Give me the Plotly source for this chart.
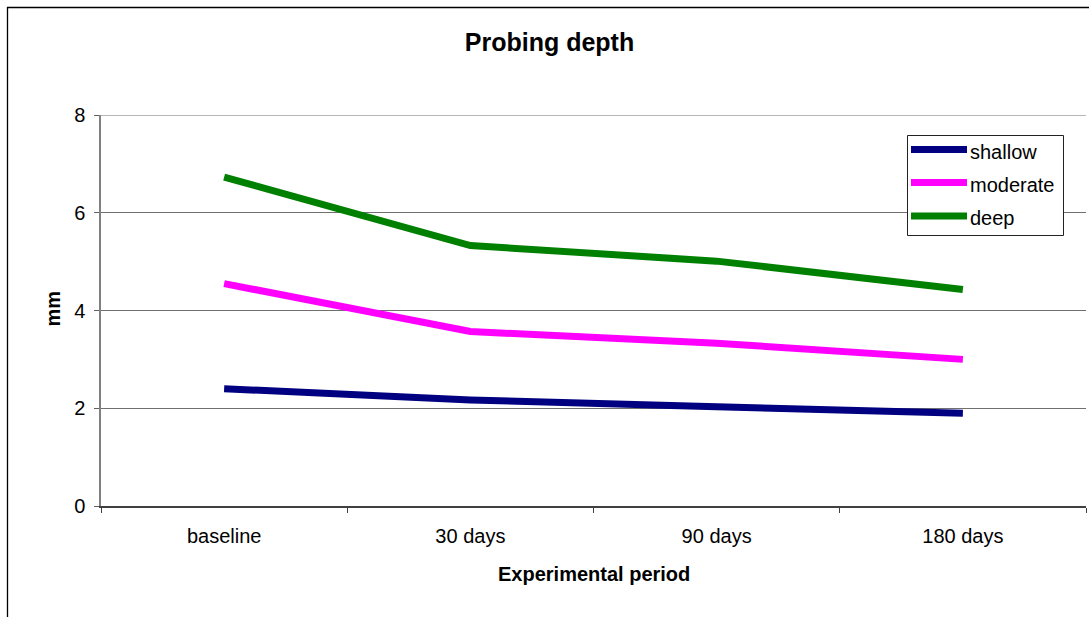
import plotly.graph_objects as go

categories = ["baseline", "30 days", "90 days", "180 days"]
shallow = [2.40, 2.17, 2.03, 1.90]
moderate = [4.55, 3.57, 3.33, 3.00]
deep = [6.73, 5.33, 5.01, 4.43]
series_names = ["shallow", "moderate", "deep"]
series_values = [shallow, moderate, deep]
series_colors = ["#000080", "#FF00FF", "#008000"]
y_ticks = [0, 2, 4, 6, 8]

W, H = 1089, 617
L, R, T, B = 101, 3, 115, 111
pw, ph = W - L - R, H - T - B

def px(x):
    return (x - L) / pw

def py(y):
    return (H - B - y) / ph

FONT = "Liberation Sans, Arial, sans-serif"

fig = go.Figure()
for name, vals, col in zip(series_names, series_values, series_colors):
    fig.add_trace(go.Scatter(x=categories, y=vals, mode="lines", name=name,
                             line=dict(color=col, width=7), showlegend=False))

shapes = []
annotations = []
# outer chart border
shapes.append(dict(type="rect", xref="paper", yref="paper",
                   x0=px(7.5), y0=py(7.5), x1=px(1100), y1=py(640),
                   line=dict(color="black", width=1.3), fillcolor="rgba(0,0,0,0)", layer="below"))
# top gridline (at the last y tick)
shapes.append(dict(type="line", xref="paper", yref="y",
                   x0=0, x1=1, y0=y_ticks[-1], y1=y_ticks[-1],
                   line=dict(color="#707070", width=1.2), layer="below"))
# legend box
shapes.append(dict(type="rect", xref="paper", yref="paper",
                   x0=px(907.5), y0=py(135.5), x1=px(1063.5), y1=py(235.5),
                   line=dict(color="#222222", width=1), fillcolor="white", layer="above"))
row_y = [149.5, 182.5, 216]
for i, (name, col) in enumerate(zip(series_names, series_colors)):
    shapes.append(dict(type="line", xref="paper", yref="paper",
                       x0=px(911), x1=px(967), y0=py(row_y[i]), y1=py(row_y[i]),
                       line=dict(color=col, width=7), layer="above"))
    annotations.append(dict(text=name, xref="paper", yref="paper",
                            x=px(968), y=py(row_y[i] + 2), xanchor="left", yanchor="middle",
                            showarrow=False, font=dict(family=FONT, size=20, color="black")))

# axis titles
annotations.append(dict(text="<b>Experimental period</b>", xref="paper", yref="paper",
                        x=px(593.5), y=py(574), xanchor="center", yanchor="middle",
                        showarrow=False, font=dict(family=FONT, size=20, color="black")))
annotations.append(dict(text="<b>mm</b>", xref="paper", yref="paper",
                        x=px(52.5), y=py(309), xanchor="center", yanchor="middle", textangle=-90,
                        showarrow=False, font=dict(family=FONT, size=20, color="black")))

fig.update_layout(
    width=W, height=H,
    margin=dict(l=L, r=R, t=T, b=B),
    paper_bgcolor="white", plot_bgcolor="white",
    title=dict(text="<b>Probing depth</b>", x=549.5 / W, xref="container", xanchor="center",
               y=1 - 42 / H, yref="container", yanchor="middle",
               font=dict(family=FONT, size=25, color="black")),
    font=dict(family=FONT, size=20, color="black"),
    shapes=shapes, annotations=annotations,
    xaxis=dict(type="category", range=[-0.5, 3.5], tickson="boundaries",
               ticks="outside", ticklen=5, tickcolor="#404040",
               showline=True, linecolor="#404040", linewidth=1.5,
               showgrid=False, zeroline=False, ticklabelstandoff=11,
               tickfont=dict(family=FONT, size=20, color="black")),
    yaxis=dict(range=[0, 8], tickvals=y_ticks, ticks="outside", ticklen=5, tickcolor="#606060",
               showline=True, linecolor="#808080", linewidth=1.5,
               showgrid=True, gridcolor="#707070", gridwidth=1.2, zeroline=False,
               ticklabelstandoff=5,
               tickfont=dict(family=FONT, size=20, color="black")),
)

fig.write_html("out.html")
